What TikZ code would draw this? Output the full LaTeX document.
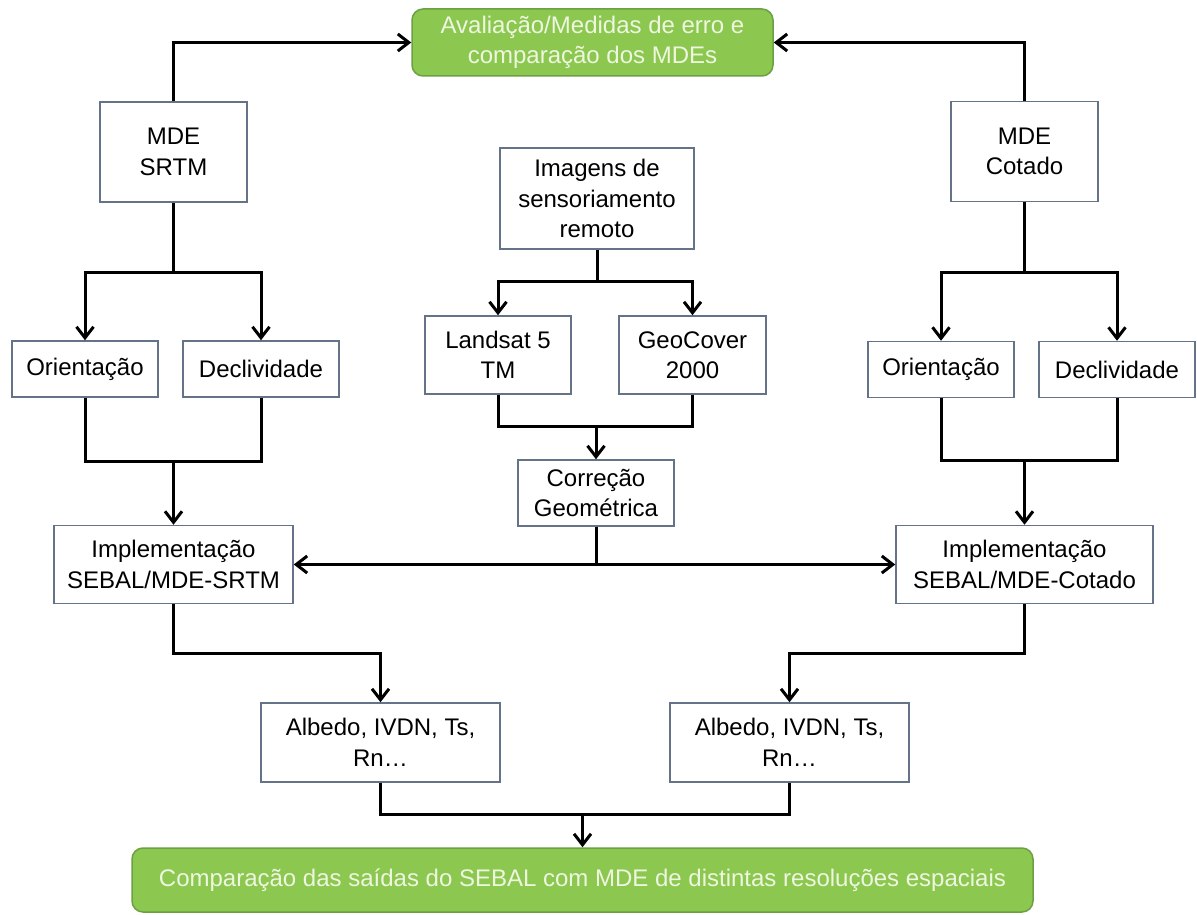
\documentclass[tikz,border=0pt]{standalone}
\usepackage{fontspec}
\setmainfont{Liberation Sans}
\usetikzlibrary{arrows.meta, positioning, calc}
\definecolor{borda}{RGB}{100,115,135}
\definecolor{verde}{RGB}{140,200,80}
\definecolor{verdeborda}{RGB}{108,160,68}
\definecolor{verdetexto}{RGB}{238,246,224}

\tikzset{
  caixa/.style={draw=borda, line width=1.5pt, fill=white, align=center, inner sep=0pt,
    font=\fontsize{24}{30.5}\selectfont},
  caixaverde/.style={caixa, draw=verdeborda, fill=verde, text=verdetexto, rounded corners=11pt},
  liga/.style={line width=3pt, line join=miter},
  seta/.style={liga, -{Straight Barb[length=11pt, width=17pt]}},
}

\begin{document}
\begin{tikzpicture}[x=1pt, y=-1pt]
  \useasboundingbox (0,0) rectangle (1197,915);

  %caixas verdes
  \node[caixaverde, minimum width=361pt, minimum height=67pt] (aval) at (592.5,42.5)
    {Avaliação/Medidas de erro e\\comparação dos MDEs};
  \node[caixaverde, minimum width=901pt, minimum height=64pt] (comp) at (582.5,880)
    {Comparação das saídas do SEBAL com MDE de distintas resoluções espaciais};

  %MDEs e imagens
  \node[caixa, minimum width=147pt, minimum height=100pt] (srtm) at (173.5,152) {MDE\\SRTM};
  \node[caixa, minimum width=147pt, minimum height=100pt] (cot) at (1024.5,151.5) {MDE\\Cotado};
  \node[caixa, minimum width=194pt, minimum height=101pt] (img) at (597,198.5)
    {Imagens de\\sensoriamento\\remoto};

  %orientacao e declividade
  \node[caixa, minimum width=146pt, minimum height=56pt] (oriL) at (85,369) {Orientação};
  \node[caixa, minimum width=156pt, minimum height=56pt] (decL) at (261,369) {Declividade};
  \node[caixa, minimum width=146pt, minimum height=56pt] (oriR) at (941,369.5) {Orientação};
  \node[caixa, minimum width=156pt, minimum height=56pt] (decR) at (1117,369.5) {Declividade};

  %satelites
  \node[caixa, minimum width=146pt, minimum height=78pt] (land) at (498,355) {Landsat 5\\TM};
  \node[caixa, minimum width=147pt, minimum height=78pt] (geo) at (692.5,355) {GeoCover\\2000};
  \node[caixa, minimum width=156pt, minimum height=66pt] (corr) at (596,493) {Correção\\Geométrica};

  %implementacao
  \node[caixa, minimum width=239pt, minimum height=78pt] (impL) at (173.5,564.5)
    {Implementação\\SEBAL/MDE-SRTM};
  \node[caixa, minimum width=257pt, minimum height=78pt] (impR) at (1024.5,564.5)
    {Implementação\\SEBAL/MDE-Cotado};

  %saidas
  \node[caixa, minimum width=239pt, minimum height=79pt] (albL) at (380.5,742.5) {Albedo, IVDN, Ts,\\Rn…};
  \node[caixa, minimum width=239pt, minimum height=79pt] (albR) at (789.5,742.5) {Albedo, IVDN, Ts,\\Rn…};

  %pontos de juncao
  \coordinate (jSrtm) at (173.5,272);
  \coordinate (jCot) at (1024.5,272);
  \coordinate (jImg) at (597,281);
  \coordinate (jCorr) at (596,426);
  \coordinate (jImpL) at (173.5,461);
  \coordinate (jImpR) at (1024.5,460);
  \coordinate (jMeio) at (corr.south |- impL.east);
  \coordinate (dobraL) at (173.5,653);
  \coordinate (dobraR) at (1024.5,653);
  \coordinate (jComp) at (582.5,814);

  %ligacoes
  \draw[seta] (srtm.north) |- (aval.west);
  \draw[seta] (cot.north) |- (aval.east);

  \draw[liga] (srtm.south) -- (jSrtm);
  \draw[seta] (jSrtm) -| (oriL.north);
  \draw[seta] (jSrtm) -| (decL.north);
  \draw[liga] (cot.south) -- (jCot);
  \draw[seta] (jCot) -| (oriR.north);
  \draw[seta] (jCot) -| (decR.north);
  \draw[liga] (img.south) -- (jImg);
  \draw[seta] (jImg) -| (land.north);
  \draw[seta] (jImg) -| (geo.north);

  \draw[liga] (land.south) |- (jCorr) -| (geo.south);
  \draw[seta] (jCorr) -- (corr.north);
  \draw[liga] (oriL.south) |- (jImpL) -| (decL.south);
  \draw[seta] (jImpL) -- (impL.north);
  \draw[liga] (oriR.south) |- (jImpR) -| (decR.south);
  \draw[seta] (jImpR) -- (impR.north);

  \draw[liga] (corr.south) -- (jMeio);
  \draw[seta] (jMeio) -- (impL.east);
  \draw[seta] (jMeio) -- (impR.west);

  \draw[seta] (impL.south) -- (dobraL) -| (albL.north);
  \draw[seta] (impR.south) -- (dobraR) -| (albR.north);

  \draw[liga] (albL.south) |- (jComp) -| (albR.south);
  \draw[seta] (jComp) -- (comp.north);
\end{tikzpicture}
\end{document}
